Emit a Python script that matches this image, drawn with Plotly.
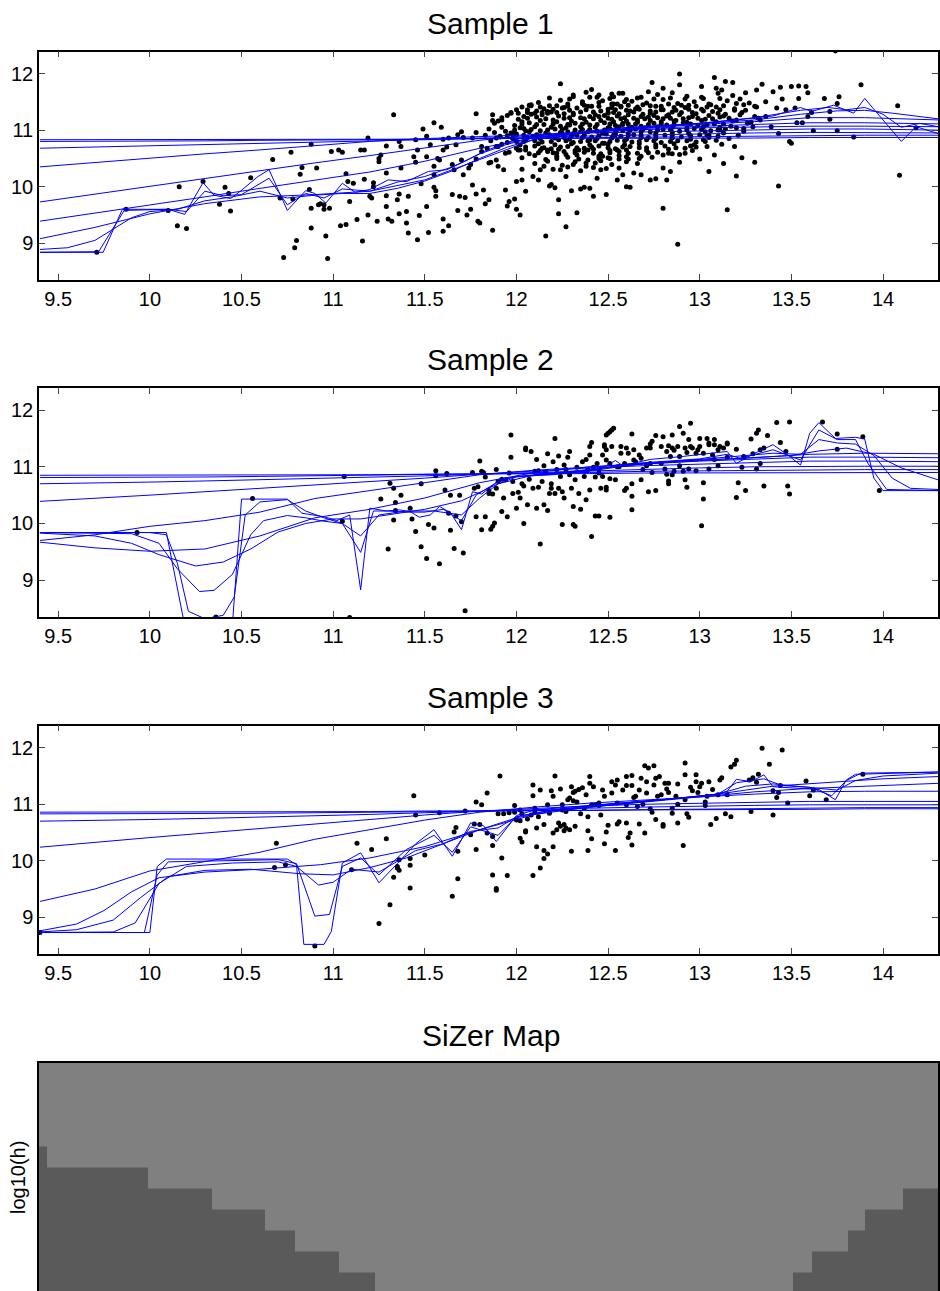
import plotly.graph_objects as go

# ---------------- axes / labels ----------------
X_RANGE = [9.395, 14.30]
Y_RANGE = [8.35, 12.39]
x_ticks = [9.5, 10, 10.5, 11, 11.5, 12, 12.5, 13, 13.5, 14]
x_tick_text = ["9.5", "10", "10.5", "11", "11.5", "12", "12.5", "13", "13.5", "14"]
y_ticks = [9, 10, 11, 12]
y_tick_text = ["9", "10", "11", "12"]
titles = ["Sample 1", "Sample 2", "Sample 3", "SiZer Map"]
map_ylabel = "log10(h)"

# ---------------- Sample 1 points (x, y) ----------------
s1_sparse = [
    (9.71, 8.84), (9.87, 9.60), (10.10, 9.58), (10.16, 10.00), (10.15, 9.31), (10.20, 9.26), (10.29, 10.09),
    (10.38, 9.69), (10.41, 9.99), (10.43, 9.88), (10.44, 9.57), (10.55, 10.16), (10.67, 10.48), (10.71, 9.80),
    (10.73, 8.75), (10.77, 10.61), (10.78, 9.78), (10.79, 8.92), (10.80, 9.05), (10.82, 10.22), (10.83, 10.34),
    (10.87, 9.95), (10.88, 9.62), (10.88, 10.75), (10.88, 9.27), (10.91, 10.33), (10.92, 9.68),
    (10.96, 9.13), (10.97, 8.73), (10.93, 9.70), (10.95, 9.68), (10.95, 9.60), (10.98, 9.62), (10.99, 10.62),
    (11.03, 10.65), (11.05, 10.61), (11.04, 9.31), (11.07, 9.33), (11.07, 10.23), (11.09, 9.74), (11.08, 10.09),
    (11.11, 10.06), (11.13, 9.42), (11.15, 10.65), (11.17, 10.65), (11.16, 9.04), (11.17, 10.13), (11.19, 10.86),
    (11.19, 9.50), (11.20, 9.83), (11.21, 9.80), (11.22, 10.07), (11.22, 10.00), (11.24, 9.39), (11.25, 10.50),
    (11.25, 10.44), (11.26, 10.56), (11.29, 10.24), (11.29, 9.65), (11.29, 9.84), (11.30, 9.43), (11.29, 10.72),
    (11.32, 9.39), (11.33, 11.27), (11.35, 9.77), (11.36, 9.87), (11.36, 9.52), (11.36, 10.80), (11.37, 10.71),
    (11.37, 10.33), (11.40, 9.56), (11.40, 9.36), (11.41, 9.83), (11.41, 9.18), (11.44, 10.53), (11.45, 10.43),
    (11.45, 10.83), (11.46, 10.65), (11.46, 9.06), (11.47, 9.49), (11.48, 10.05), (11.49, 11.02), (11.51, 10.53),
    (11.51, 9.65), (11.51, 10.89), (11.52, 9.19), (11.53, 10.74), (11.55, 11.13), (11.55, 9.99), (11.55, 10.36),
    (11.55, 10.21), (11.56, 9.83), (11.56, 9.93), (11.57, 10.50), (11.58, 10.47), (11.59, 11.05), (11.60, 9.43),
    (11.60, 9.21), (11.60, 10.84), (11.60, 10.65), (11.62, 10.70), (11.63, 10.86), (11.63, 9.31), (11.65, 9.86),
    (11.65, 10.39), (11.66, 10.30), (11.67, 10.74), (11.68, 10.92), (11.68, 9.58), (11.69, 9.83), (11.70, 10.97),
    (11.70, 10.47), (11.71, 10.21), (11.71, 10.87), (11.72, 9.81), (11.73, 9.50), (11.74, 10.33), (11.75, 10.39),
    (11.75, 9.60), (11.76, 10.86), (11.76, 10.03), (11.78, 11.29), (11.78, 10.96), (11.78, 9.87), (11.78, 10.49),
    (11.79, 9.39), (11.80, 9.36), (11.81, 10.71), (11.81, 10.62), (11.82, 9.94), (11.83, 9.70), (11.84, 10.68),
    (11.85, 10.42), (11.85, 9.77), (11.86, 10.43), (11.87, 11.27), (11.87, 9.23), (11.87, 11.17), (11.89, 10.71),
    (11.89, 10.47), (11.90, 10.36), (11.91, 10.89), (11.92, 11.18), (11.93, 10.30), (11.94, 10.59), (11.94, 9.94),
    (11.95, 9.66), (11.96, 9.74), (11.97, 11.30), (11.98, 10.86), (11.99, 9.78), (11.99, 10.94), (12.00, 9.60),
    (12.00, 10.09), (12.01, 11.30), (12.01, 10.65), (12.02, 9.50), (12.03, 10.31), (12.03, 10.12), (12.04, 10.80),
    (12.05, 10.99), (12.05, 10.65), (12.05, 9.92), (12.06, 11.36), (12.07, 11.44), (12.08, 11.43), (12.09, 10.18),
    (12.10, 11.30), (12.11, 10.92), (12.12, 10.12), (12.13, 10.30), (12.14, 10.68), (12.14, 11.31), (12.15, 10.36),
    (12.16, 9.13), (12.17, 10.65), (12.17, 11.30), (12.18, 10.01), (12.19, 10.04), (12.20, 10.60), (12.21, 9.98),
    (12.22, 11.31), (12.23, 9.52), (12.23, 9.77), (12.24, 11.82), (12.24, 10.30), (12.25, 10.94), (12.25, 11.39),
    (12.26, 10.62), (12.27, 9.29), (12.27, 10.18), (12.28, 11.42), (12.29, 11.09), (12.30, 9.93), (12.31, 11.59),
    (12.31, 10.39), (12.33, 9.54), (12.34, 10.65), (12.35, 9.96), (12.35, 10.97), (12.36, 11.50), (12.37, 9.99),
    (12.38, 10.36), (12.39, 10.65), (12.40, 9.97), (12.40, 10.83), (12.41, 11.72), (12.42, 9.83), (12.43, 10.42),
    (12.44, 10.15), (12.45, 11.49), (12.45, 11.62), (12.46, 10.30), (12.47, 10.54), (12.48, 10.77), (12.49, 9.86),
    (12.50, 11.30), (12.51, 10.50), (12.52, 11.46), (12.53, 11.59), (12.54, 10.92), (12.55, 10.12), (12.55, 10.65),
    (12.56, 11.65), (12.57, 11.42), (12.58, 11.12), (12.59, 11.50), (12.60, 10.00), (12.61, 11.03),
    (13.74, 12.40), (12.89, 11.99), (12.74, 11.84), (12.80, 11.74), (12.89, 11.80), (13.08, 11.93), (13.14, 11.86),
    (13.18, 11.84), (13.01, 11.77), (13.09, 11.74), (13.12, 11.71), (13.25, 11.66), (13.34, 11.81), (13.31, 11.71),
    (13.40, 11.68), (13.44, 11.76), (13.45, 11.55), (13.50, 11.77), (13.54, 11.78), (13.58, 11.77), (13.59, 11.66),
    (13.54, 11.56), (13.52, 11.39), (13.68, 11.56), (13.76, 11.59), (13.75, 11.47), (13.88, 11.80), (13.71, 11.33),
    (13.71, 11.19), (13.61, 11.31), (13.59, 11.24), (13.53, 11.13), (13.56, 11.13), (13.62, 10.99), (13.75, 10.99),
    (13.84, 10.88), (14.08, 11.43), (14.18, 11.04), (14.09, 10.20), (13.43, 10.94), (13.49, 10.80), (13.50, 10.77),
    (13.43, 10.01), (13.15, 9.59), (12.80, 9.62), (12.88, 8.98), (13.20, 10.19), (13.13, 10.41), (13.05, 10.27),
    (13.00, 10.49), (13.08, 10.56), (13.19, 10.71), (13.23, 10.51), (13.30, 10.43), (12.92, 10.59), (12.95, 10.72),
    (12.89, 10.43), (12.85, 10.58), (12.80, 10.33), (12.76, 10.14), (12.73, 10.12), (12.62, 9.99), (12.82, 10.12),
    (12.84, 10.27), (12.68, 10.21), (12.64, 10.24), (12.58, 10.21), (12.56, 10.33), (12.60, 10.53), (13.04, 10.91),
    (13.11, 11.00), (13.02, 10.83), (13.24, 11.03), (13.29, 11.06), (13.33, 11.18), (13.36, 11.24), (13.39, 11.06),
    (13.25, 11.35), (13.20, 11.47), (13.31, 11.41), (13.36, 11.50), (13.42, 11.39), (13.47, 11.36),
]
s1_dense = [
    (12.31, 11.62), (12.44, 11.58), (12.58, 11.65), (12.66, 11.57), (12.77, 11.63), (12.93, 11.60), (13.02, 11.56), (13.18, 11.61),
    (12.12, 11.49), (12.24, 11.53), (12.36, 11.47), (12.47, 11.52), (12.55, 11.46), (12.63, 11.51), (12.71, 11.48), (12.80, 11.54),
    (12.88, 11.47), (12.97, 11.50), (13.06, 11.45), (13.15, 11.52), (13.27, 11.48),
    (12.03, 11.41), (12.15, 11.38), (12.22, 11.43), (12.33, 11.39), (12.41, 11.42), (12.50, 11.37), (12.57, 11.41), (12.65, 11.38),
    (12.73, 11.43), (12.79, 11.36), (12.86, 11.40), (12.94, 11.44), (13.01, 11.37), (13.09, 11.41), (13.19, 11.38), (13.30, 11.42),
    (11.97, 11.31), (12.08, 11.28), (12.17, 11.33), (12.26, 11.29), (12.35, 11.32), (12.43, 11.27), (12.50, 11.31), (12.56, 11.29),
    (12.62, 11.34), (12.69, 11.28), (12.76, 11.32), (12.83, 11.27), (12.90, 11.31), (12.98, 11.29), (13.07, 11.33), (13.14, 11.28),
    (13.23, 11.31),
    (11.92, 11.22), (12.01, 11.19), (12.11, 11.23), (12.20, 11.18), (12.29, 11.22), (12.37, 11.20), (12.45, 11.24), (12.52, 11.19),
    (12.59, 11.22), (12.66, 11.18), (12.72, 11.23), (12.80, 11.20), (12.87, 11.17), (12.94, 11.22), (13.03, 11.19), (13.11, 11.23),
    (13.20, 11.18), (13.32, 11.21),
    (11.88, 11.12), (11.99, 11.08), (12.07, 11.13), (12.15, 11.10), (12.24, 11.07), (12.32, 11.12), (12.40, 11.09), (12.48, 11.13),
    (12.54, 11.08), (12.61, 11.11), (12.68, 11.07), (12.75, 11.12), (12.82, 11.09), (12.91, 11.13), (12.99, 11.08), (13.08, 11.11),
    (13.17, 11.07), (13.26, 11.12),
    (11.85, 11.02), (11.94, 10.98), (12.04, 11.03), (12.13, 10.99), (12.21, 11.02), (12.28, 10.97), (12.36, 11.01), (12.44, 10.98),
    (12.51, 11.03), (12.58, 10.99), (12.65, 11.02), (12.73, 10.97), (12.80, 11.01), (12.89, 10.98), (12.97, 11.03), (13.06, 10.99),
    (13.14, 11.02), (13.24, 10.98),
    (11.83, 10.91), (11.91, 10.88), (12.00, 10.93), (12.09, 10.89), (12.18, 10.92), (12.26, 10.87), (12.33, 10.91), (12.41, 10.88),
    (12.49, 10.93), (12.57, 10.89), (12.64, 10.92), (12.72, 10.87), (12.81, 10.91), (12.90, 10.88), (13.00, 10.92), (13.10, 10.89),
    (13.21, 10.91),
    (11.86, 10.81), (11.95, 10.78), (12.05, 10.82), (12.14, 10.79), (12.23, 10.83), (12.31, 10.78), (12.39, 10.81), (12.47, 10.77),
    (12.55, 10.82), (12.63, 10.79), (12.71, 10.83), (12.79, 10.78), (12.88, 10.81), (12.98, 10.79), (13.09, 10.82),
    (11.90, 10.71), (12.00, 10.68), (12.10, 10.72), (12.19, 10.67), (12.28, 10.71), (12.37, 10.68), (12.45, 10.72), (12.54, 10.67),
    (12.62, 10.71), (12.71, 10.69), (12.81, 10.72), (12.92, 10.68), (13.04, 10.71),
    (11.96, 10.61), (12.07, 10.58), (12.17, 10.62), (12.27, 10.57), (12.37, 10.61), (12.46, 10.58), (12.56, 10.62), (12.66, 10.59),
    (12.77, 10.61), (12.89, 10.57),
    (12.03, 10.51), (12.16, 10.48), (12.28, 10.52), (12.39, 10.47), (12.50, 10.51), (12.61, 10.49), (12.74, 10.52),
    (12.10, 10.41), (12.25, 10.38), (12.38, 10.42), (12.52, 10.39), (12.66, 10.41),
    (12.20, 10.31), (12.35, 10.28), (12.49, 10.32),
]
s1_dense2 = [
    (12.38, 11.67), (12.52, 11.64), (12.72, 11.68), (12.85, 11.66), (13.10, 11.65),
    (12.18, 11.57), (12.29, 11.55), (12.40, 11.58), (12.51, 11.56), (12.60, 11.54), (12.68, 11.58), (12.75, 11.55),
    (12.84, 11.57), (12.92, 11.55), (13.01, 11.58), (13.11, 11.56), (13.22, 11.55),
    (12.08, 11.45), (12.18, 11.43), (12.28, 11.46), (12.37, 11.44), (12.45, 11.42), (12.53, 11.46), (12.61, 11.44),
    (12.69, 11.45), (12.76, 11.42), (12.83, 11.46), (12.90, 11.44), (12.98, 11.42), (13.05, 11.46), (13.13, 11.43), (13.24, 11.45),
    (12.00, 11.36), (12.11, 11.34), (12.20, 11.37), (12.29, 11.35), (12.38, 11.36), (12.46, 11.34), (12.54, 11.36),
    (12.60, 11.35), (12.67, 11.37), (12.73, 11.34), (12.80, 11.36), (12.87, 11.35), (12.94, 11.37), (13.02, 11.34),
    (13.11, 11.36), (13.19, 11.35),
    (11.95, 11.26), (12.04, 11.24), (12.14, 11.27), (12.23, 11.25), (12.31, 11.27), (12.40, 11.24), (12.48, 11.26),
    (12.55, 11.25), (12.61, 11.27), (12.68, 11.24), (12.75, 11.26), (12.82, 11.25), (12.89, 11.27), (12.96, 11.24),
    (13.05, 11.26), (13.13, 11.25), (13.22, 11.27), (13.30, 11.24),
    (11.90, 11.16), (12.03, 11.15), (12.13, 11.17), (12.22, 11.15), (12.30, 11.16), (12.38, 11.14), (12.46, 11.17),
    (12.53, 11.15), (12.60, 11.16), (12.66, 11.14), (12.73, 11.17), (12.79, 11.15), (12.86, 11.16), (12.93, 11.14),
    (13.01, 11.17), (13.09, 11.15), (13.18, 11.16), (13.28, 11.14),
    (11.92, 11.05), (12.02, 11.04), (12.10, 11.06), (12.19, 11.05), (12.27, 11.04), (12.35, 11.06), (12.43, 11.05),
    (12.50, 11.04), (12.56, 11.06), (12.63, 11.05), (12.70, 11.04), (12.77, 11.06), (12.85, 11.05), (12.93, 11.04),
    (13.02, 11.06), (13.11, 11.05), (13.20, 11.04),
    (11.88, 10.96), (11.97, 10.95), (12.07, 10.97), (12.16, 10.95), (12.24, 10.96), (12.31, 10.94), (12.39, 10.97),
    (12.47, 10.95), (12.54, 10.96), (12.61, 10.94), (12.68, 10.97), (12.76, 10.95), (12.85, 10.96), (12.94, 10.94),
    (13.03, 10.97), (13.13, 10.95),
    (11.89, 10.86), (11.98, 10.85), (12.06, 10.87), (12.13, 10.85), (12.21, 10.86), (12.29, 10.84), (12.36, 10.87),
    (12.44, 10.85), (12.52, 10.86), (12.60, 10.84), (12.68, 10.87), (12.76, 10.85), (12.85, 10.86), (12.95, 10.84),
    (13.05, 10.87), (13.16, 10.85),
    (11.92, 10.75), (12.02, 10.74), (12.12, 10.76), (12.21, 10.74), (12.30, 10.76), (12.40, 10.74), (12.50, 10.75),
    (12.59, 10.74), (12.67, 10.76), (12.76, 10.74), (12.86, 10.76), (12.97, 10.74), (13.12, 10.75),
    (12.02, 10.65), (12.13, 10.64), (12.23, 10.66), (12.32, 10.64), (12.42, 10.66), (12.51, 10.64), (12.60, 10.65),
    (12.71, 10.64), (12.83, 10.66), (12.96, 10.64),
    (12.10, 10.55), (12.22, 10.54), (12.33, 10.56), (12.45, 10.54), (12.56, 10.55), (12.68, 10.54), (12.80, 10.56),
    (12.17, 10.45), (12.32, 10.44), (12.46, 10.46), (12.60, 10.44),
    (12.28, 10.35), (12.42, 10.34),
]
s1_dense3 = [
    (12.13, 11.41), (12.26, 11.40), (12.39, 11.42), (12.52, 11.40), (12.66, 11.41), (12.79, 11.42), (12.92, 11.40), (13.04, 11.41),
    (12.06, 11.31), (12.19, 11.32), (12.31, 11.30), (12.42, 11.32), (12.53, 11.31), (12.64, 11.32), (12.73, 11.30),
    (12.85, 11.32), (12.96, 11.31), (13.10, 11.30),
    (12.06, 11.21), (12.16, 11.20), (12.26, 11.21), (12.35, 11.22), (12.42, 11.20), (12.50, 11.21), (12.57, 11.20),
    (12.64, 11.21), (12.70, 11.20), (12.77, 11.22), (12.84, 11.21), (12.91, 11.20), (12.99, 11.21), (13.07, 11.20), (13.16, 11.21),
    (12.03, 11.11), (12.11, 11.10), (12.20, 11.11), (12.28, 11.10), (12.36, 11.11), (12.44, 11.10), (12.51, 11.11),
    (12.58, 11.10), (12.65, 11.11), (12.72, 11.10), (12.79, 11.11), (12.86, 11.10), (12.95, 11.11), (13.04, 11.10), (13.13, 11.11),
    (11.99, 11.00), (12.08, 11.01), (12.17, 11.00), (12.25, 11.01), (12.32, 11.00), (12.40, 11.01), (12.48, 11.00),
    (12.55, 11.01), (12.62, 11.00), (12.69, 11.01), (12.77, 11.00), (12.84, 11.01), (12.93, 11.00), (13.01, 11.01), (13.10, 11.00),
    (11.95, 10.90), (12.04, 10.91), (12.13, 10.90), (12.22, 10.91), (12.30, 10.90), (12.37, 10.91), (12.45, 10.90),
    (12.53, 10.91), (12.61, 10.90), (12.68, 10.91), (12.76, 10.90), (12.85, 10.91), (12.95, 10.90), (13.05, 10.91),
    (12.00, 10.80), (12.10, 10.81), (12.19, 10.80), (12.27, 10.81), (12.35, 10.80), (12.43, 10.81), (12.51, 10.80),
    (12.59, 10.81), (12.67, 10.80), (12.75, 10.81), (12.84, 10.80), (12.93, 10.81), (13.03, 10.80),
    (12.05, 10.70), (12.15, 10.69), (12.24, 10.70), (12.33, 10.69), (12.41, 10.70), (12.50, 10.69), (12.58, 10.70),
    (12.67, 10.69), (12.76, 10.70), (12.87, 10.69), (12.98, 10.70),
    (12.12, 10.60), (12.22, 10.59), (12.32, 10.60), (12.42, 10.59), (12.51, 10.60), (12.61, 10.59), (12.72, 10.60), (12.83, 10.59),
    (12.22, 10.50), (12.34, 10.49), (12.45, 10.50), (12.56, 10.49), (12.67, 10.50),
]

# ---------------- Sample 2 points ----------------
s2_points = [
    (9.93, 9.84), (10.56, 10.44), (10.36, 8.35),
    (11.06, 10.83), (11.05, 10.04), (11.09, 8.34), (11.30, 9.55), (11.26, 10.43), (11.31, 10.71), (11.33, 10.62),
    (11.34, 10.37), (11.33, 10.06), (11.34, 10.23), (11.37, 10.50), (11.42, 10.27), (11.43, 10.08), (11.45, 9.86),
    (11.48, 10.70), (11.48, 9.59), (11.51, 9.38), (11.52, 9.98), (11.55, 9.92), (11.56, 10.93), (11.56, 10.84),
    (11.58, 9.29), (11.61, 10.59), (11.62, 10.88), (11.63, 10.18), (11.64, 10.50), (11.64, 9.88), (11.66, 9.56),
    (11.67, 10.13), (11.69, 10.50), (11.70, 10.03), (11.71, 9.48), (11.72, 8.46), (11.76, 10.90), (11.77, 10.62),
    (11.78, 10.12), (11.79, 10.65), (11.80, 11.10), (11.81, 9.89), (11.81, 10.92), (11.82, 10.90), (11.83, 10.82),
    (11.83, 10.12), (11.85, 10.53), (11.85, 10.58), (11.86, 9.90), (11.87, 9.95), (11.87, 10.52), (11.88, 10.01),
    (11.89, 10.95), (11.89, 10.62), (11.90, 10.74), (11.92, 10.78), (11.92, 10.21), (11.93, 10.45), (11.94, 10.77),
    (11.95, 10.12), (11.96, 10.89), (11.97, 11.17), (11.97, 11.56), (11.98, 10.74), (11.98, 10.53), (12.00, 10.27),
    (12.01, 10.55), (12.02, 10.45), (12.03, 10.70), (12.04, 10.00), (12.04, 10.66), (12.05, 11.33), (12.05, 11.30),
    (12.06, 10.33), (12.07, 10.78), (12.08, 11.27), (12.09, 10.62), (12.10, 10.92), (12.11, 10.27), (12.11, 11.13),
    (12.12, 10.93), (12.12, 10.64), (12.13, 9.64), (12.14, 10.74), (12.15, 11.02), (12.15, 10.33), (12.16, 10.90),
    (12.17, 10.23), (12.17, 11.23), (12.18, 10.53), (12.19, 10.70), (12.19, 10.62), (12.20, 11.09), (12.21, 11.50),
    (12.21, 10.53), (12.22, 10.95), (12.23, 11.19), (12.23, 10.62), (12.24, 10.83), (12.25, 10.56), (12.25, 9.98),
    (12.26, 11.03), (12.26, 10.45), (12.27, 10.95), (12.28, 11.17), (12.29, 11.27), (12.29, 10.86), (12.30, 10.62),
    (12.31, 10.30), (12.31, 9.98), (12.32, 9.95), (12.32, 10.77), (12.33, 10.99), (12.34, 10.53), (12.35, 10.25),
    (12.36, 11.09), (12.37, 10.83), (12.38, 10.42), (12.38, 11.13), (12.39, 10.95), (12.40, 11.36), (12.40, 11.21),
    (12.40, 10.59), (12.41, 9.77), (12.41, 11.43), (12.42, 10.99), (12.43, 10.82), (12.43, 10.13), (12.44, 11.06),
    (12.45, 10.13), (12.45, 10.95), (12.46, 10.62), (12.47, 11.21), (12.48, 11.39), (12.49, 11.12), (12.50, 11.59),
    (12.51, 10.11), (12.51, 11.62), (12.52, 11.36), (12.53, 11.68), (12.54, 10.77), (12.55, 11.00),
    (12.49, 11.56), (12.52, 11.65), (12.48, 11.36), (12.49, 11.30), (12.57, 11.36), (12.60, 11.33), (12.57, 11.24),
    (12.61, 11.24), (12.63, 11.58), (12.64, 11.30), (12.64, 11.12), (12.65, 11.09), (12.68, 11.15), (12.67, 11.21),
    (12.71, 11.33), (12.73, 11.40), (12.74, 11.45), (12.73, 11.33), (12.76, 11.55), (12.79, 11.36), (12.80, 11.53),
    (12.82, 11.27), (12.83, 11.37), (12.84, 11.18), (12.85, 11.56), (12.85, 11.33), (12.86, 11.29), (12.88, 11.36),
    (12.89, 11.71), (12.89, 11.18), (12.91, 11.59), (12.92, 11.33), (12.93, 11.25), (12.94, 11.48), (12.95, 11.36),
    (12.95, 11.77), (12.96, 11.33), (12.98, 11.24), (12.99, 11.30), (13.00, 11.50), (13.00, 11.36), (13.02, 11.24),
    (13.04, 11.50), (13.05, 11.39), (13.05, 11.42), (13.07, 11.21), (13.08, 11.48), (13.08, 11.39), (13.10, 11.30),
    (13.11, 11.36), (13.13, 11.33), (13.15, 11.40), (13.15, 11.42), (13.20, 11.31), (13.24, 11.18), (13.28, 11.49),
    (13.29, 11.23), (13.31, 11.59), (13.32, 11.65), (13.33, 11.30), (13.35, 11.33), (13.37, 11.55), (13.42, 11.78),
    (13.44, 11.43), (13.47, 11.27), (13.49, 11.79), (13.48, 10.66), (13.49, 10.52), (13.67, 11.79), (13.75, 11.58),
    (13.75, 11.31), (13.89, 11.53), (13.98, 10.58),
    (12.45, 10.89), (12.47, 10.83), (12.51, 10.79), (12.49, 10.64), (12.49, 10.59), (12.59, 10.58), (12.60, 10.62),
    (12.63, 10.70), (12.63, 10.48), (12.63, 10.24), (12.68, 10.77), (12.72, 10.56), (12.76, 10.58), (12.74, 10.90),
    (12.82, 10.87), (12.83, 10.75), (12.83, 10.70), (12.85, 10.86), (12.86, 10.92), (12.92, 10.77), (12.93, 10.64),
    (12.91, 10.92), (12.94, 10.96), (12.98, 10.93), (13.01, 9.96), (13.02, 10.43), (13.02, 10.72), (13.05, 10.96),
    (13.08, 11.13), (13.10, 11.02), (13.15, 11.17), (13.20, 10.46), (13.21, 10.72), (13.23, 10.99), (13.25, 10.58),
    (13.31, 10.96), (13.33, 11.06), (13.35, 10.66), (12.69, 10.95), (12.71, 11.02), (12.73, 11.06), (12.56, 11.00),
    (12.59, 11.06), (12.79, 11.06), (12.89, 11.02), (12.81, 10.96), (12.51, 11.06),
]

# ---------------- Sample 3 points ----------------
s3_points = [
    (9.40, 8.73), (10.69, 10.31), (10.68, 9.88), (10.74, 9.93), (10.90, 8.49),
    (11.10, 9.84), (11.13, 10.31), (11.21, 10.20), (11.25, 8.89), (11.29, 10.39), (11.31, 9.22), (11.33, 9.71),
    (11.35, 9.90), (11.35, 9.87), (11.36, 9.83), (11.36, 10.02), (11.42, 10.04), (11.42, 9.92), (11.42, 9.52),
    (11.44, 11.15), (11.45, 10.81), (11.50, 10.10), (11.58, 10.85), (11.65, 9.37), (11.66, 10.51), (11.67, 10.59),
    (11.68, 9.68), (11.68, 10.17), (11.72, 10.88), (11.75, 10.46), (11.77, 10.65), (11.78, 11.04), (11.78, 10.20),
    (11.80, 10.64), (11.81, 10.99), (11.84, 11.20), (11.84, 10.49), (11.87, 10.43), (11.87, 10.27), (11.87, 9.75),
    (11.89, 9.51), (11.89, 9.48), (11.90, 10.83), (11.91, 11.50), (11.92, 10.05), (11.93, 10.83), (11.95, 9.74),
    (11.96, 10.85), (11.99, 10.98), (11.99, 10.86), (12.00, 10.72), (12.02, 10.71), (12.02, 10.40), (12.02, 10.90),
    (12.03, 10.33), (12.03, 10.83), (12.05, 10.53), (12.05, 10.51), (12.06, 10.74), (12.08, 10.81), (12.09, 9.74),
    (12.09, 11.34), (12.09, 11.15), (12.10, 10.93), (12.10, 10.86), (12.11, 10.58), (12.11, 10.25), (12.12, 10.78),
    (12.13, 11.25), (12.13, 9.87), (12.15, 10.64), (12.15, 10.18), (12.15, 10.04), (12.17, 10.99), (12.17, 10.12),
    (12.18, 10.84), (12.19, 11.24), (12.20, 11.14), (12.20, 10.25), (12.20, 10.49), (12.21, 11.50), (12.22, 10.55),
    (12.23, 10.67), (12.24, 11.27), (12.24, 10.61), (12.25, 10.90), (12.25, 10.99), (12.26, 10.53), (12.26, 10.64),
    (12.27, 10.87), (12.27, 10.58), (12.28, 11.08), (12.29, 11.11), (12.29, 10.55), (12.30, 10.17), (12.30, 11.31),
    (12.31, 11.21), (12.31, 11.06), (12.32, 11.23), (12.32, 10.61), (12.33, 11.04), (12.34, 11.26), (12.35, 10.83),
    (12.36, 11.29), (12.37, 10.93), (12.38, 11.17), (12.39, 10.53), (12.39, 10.18), (12.39, 10.78), (12.40, 11.37),
    (12.40, 11.49), (12.41, 10.99), (12.41, 10.39), (12.42, 11.31), (12.43, 10.99), (12.45, 11.02), (12.45, 10.98),
    (12.46, 10.81), (12.47, 11.25), (12.48, 11.14), (12.48, 10.30), (12.49, 10.51), (12.50, 10.63), (12.52, 11.20),
    (12.52, 11.40), (12.54, 10.18), (12.54, 11.34), (12.55, 11.43), (12.55, 10.65),
    (12.55, 11.02), (12.56, 10.69), (12.58, 11.25), (12.60, 11.49), (12.60, 11.33), (12.60, 10.67), (12.60, 10.99),
    (12.61, 10.41), (12.62, 10.49), (12.63, 10.28), (12.63, 11.51), (12.63, 11.33), (12.64, 11.12), (12.65, 11.14),
    (12.66, 10.96), (12.67, 11.25), (12.67, 10.65), (12.68, 11.46), (12.69, 11.00), (12.70, 10.49), (12.70, 11.68),
    (12.71, 11.40), (12.71, 11.20), (12.72, 11.64), (12.73, 10.92), (12.74, 10.86), (12.75, 11.68), (12.75, 11.34),
    (12.76, 10.73), (12.76, 11.46), (12.77, 11.14), (12.78, 11.49), (12.79, 11.17), (12.80, 10.64), (12.80, 10.61),
    (12.81, 11.37), (12.82, 11.27), (12.83, 11.21), (12.83, 11.37), (12.85, 10.93), (12.85, 10.84), (12.87, 11.14),
    (12.88, 10.67), (12.88, 11.36), (12.88, 11.00), (12.91, 10.27), (12.92, 11.73), (12.92, 11.52), (12.92, 11.08),
    (12.93, 10.83), (12.94, 10.77), (12.95, 11.30), (12.96, 11.24), (12.98, 11.52), (12.98, 11.40), (12.99, 11.21),
    (13.00, 11.31), (13.01, 11.37), (13.03, 10.98), (13.03, 11.04), (13.04, 11.14), (13.05, 11.40), (13.06, 10.64),
    (13.07, 11.26), (13.09, 10.75), (13.10, 11.17), (13.11, 11.43), (13.12, 11.47), (13.14, 10.83), (13.15, 11.17),
    (13.17, 10.78), (13.17, 11.66), (13.19, 11.71), (13.20, 11.78), (13.28, 10.87), (13.27, 11.43), (13.29, 11.47),
    (13.31, 11.39), (13.32, 11.53), (13.34, 11.99), (13.38, 11.71), (13.40, 10.81), (13.40, 11.24), (13.42, 11.12),
    (13.43, 11.21), (13.44, 11.33), (13.45, 11.96), (13.48, 11.02), (13.58, 11.41), (13.60, 11.15), (13.62, 11.25),
    (13.69, 11.08), (13.89, 11.53),
]

# ---------------- smoother family ----------------
coarse_grid = [9.4, 9.7, 10.0, 10.3, 10.6, 10.9, 11.2, 11.5, 11.8, 12.1, 12.4, 12.7, 13.0, 13.3, 13.6, 13.9, 14.3]

p1_smooth = [
    [10.83, 10.83, 10.83, 10.83, 10.83, 10.84, 10.84, 10.84, 10.85, 10.85, 10.85, 10.86, 10.86, 10.86, 10.87, 10.87, 10.87],
    [10.80, 10.80, 10.81, 10.81, 10.82, 10.82, 10.83, 10.84, 10.85, 10.86, 10.87, 10.88, 10.89, 10.90, 10.90, 10.91, 10.91],
    [10.68, 10.70, 10.72, 10.74, 10.76, 10.78, 10.80, 10.83, 10.86, 10.88, 10.90, 10.92, 10.93, 10.95, 10.96, 10.96, 10.95],
    [10.35, 10.43, 10.50, 10.58, 10.65, 10.73, 10.80, 10.85, 10.89, 10.92, 10.95, 10.97, 10.99, 11.01, 11.02, 11.02, 11.00],
    [9.73, 9.87, 10.01, 10.15, 10.29, 10.42, 10.55, 10.68, 10.82, 10.92, 10.97, 11.01, 11.04, 11.06, 11.07, 11.07, 11.06],
    [9.39, 9.53, 9.68, 9.82, 9.97, 10.11, 10.26, 10.45, 10.68, 10.87, 10.97, 11.03, 11.07, 11.10, 11.13, 11.13, 11.11],
    [9.08, 9.28, 9.52, 9.70, 9.82, 9.86, 9.92, 10.12, 10.48, 10.84, 10.96, 11.04, 11.10, 11.15, 11.22, 11.22, 11.18],
]
p1_rough_x = [
    [9.40, 9.55, 9.70, 9.80, 9.90, 10.00, 10.15, 10.30, 10.45, 10.60, 10.75, 10.90, 11.05, 11.20, 11.35, 11.50, 11.65,
     11.80, 11.95, 12.10, 12.40, 12.70, 13.00, 13.30, 13.55, 13.75, 13.90, 14.05, 14.30],
    [9.40, 9.72, 9.86, 10.10, 10.20, 10.30, 10.40, 10.50, 10.65, 10.75, 10.85, 10.95, 11.05, 11.20, 11.35, 11.50, 11.65,
     11.80, 11.95, 12.10, 12.40, 12.70, 13.00, 13.30, 13.55, 13.70, 13.80, 13.90, 14.00, 14.10, 14.20, 14.30],
    [9.40, 9.745, 9.85, 10.10, 10.19, 10.29, 10.35, 10.44, 10.49, 10.59, 10.65, 10.75, 10.85, 10.90, 10.96, 11.05, 11.12,
     11.20, 11.30, 11.40, 11.52, 11.62, 11.72, 11.82, 11.95, 12.05, 12.20, 12.40, 12.60, 12.80, 13.00, 13.20, 13.40,
     13.55, 13.61, 13.73, 13.84, 13.90, 13.99, 14.10, 14.18, 14.30],
]
p1_rough_y = [
    [8.89, 8.92, 9.05, 9.25, 9.45, 9.56, 9.60, 9.75, 9.82, 9.92, 9.80, 9.85, 9.88, 9.88, 9.97, 10.10, 10.28,
     10.50, 10.70, 10.84, 10.96, 11.05, 11.11, 11.18, 11.28, 11.34, 11.35, 11.30, 11.20],
    [8.84, 8.85, 9.58, 9.60, 9.56, 9.92, 9.84, 9.86, 10.15, 9.68, 9.88, 9.80, 9.96, 9.92, 10.08, 10.18, 10.35,
     10.58, 10.75, 10.87, 10.97, 11.06, 11.12, 11.22, 11.35, 11.40, 11.36, 11.40, 11.28, 11.05, 11.12, 11.06],
    [8.84, 8.84, 9.60, 9.60, 9.51, 10.07, 9.85, 9.79, 9.91, 10.18, 10.30, 9.58, 9.93, 9.88, 9.71, 10.06, 9.90,
     9.95, 10.12, 10.09, 10.27, 10.30, 10.45, 10.62, 10.78, 10.88, 10.92, 10.98, 11.05, 11.08, 11.12, 11.18, 11.25,
     11.40, 11.33, 11.44, 11.30, 11.56, 11.21, 10.80, 11.06, 10.94],
]

p2_smooth = [
    [10.85, 10.85, 10.85, 10.85, 10.86, 10.86, 10.86, 10.87, 10.87, 10.88, 10.88, 10.89, 10.89, 10.90, 10.90, 10.90, 10.90],
    [10.81, 10.81, 10.82, 10.82, 10.83, 10.84, 10.85, 10.86, 10.87, 10.89, 10.90, 10.92, 10.93, 10.94, 10.95, 10.95, 10.95],
    [10.70, 10.71, 10.73, 10.75, 10.77, 10.79, 10.81, 10.84, 10.87, 10.90, 10.93, 10.96, 10.98, 11.00, 11.01, 11.01, 11.01],
    [10.39, 10.44, 10.50, 10.56, 10.62, 10.67, 10.73, 10.80, 10.87, 10.93, 10.98, 11.02, 11.05, 11.08, 11.10, 11.10, 11.09],
    [9.70, 9.80, 9.95, 10.05, 10.20, 10.44, 10.58, 10.72, 10.86, 10.94, 11.00, 11.05, 11.10, 11.14, 11.17, 11.17, 11.16],
    [9.67, 9.57, 9.51, 9.55, 9.78, 10.10, 10.25, 10.45, 10.72, 10.90, 11.00, 11.06, 11.12, 11.16, 11.22, 11.24, 11.23],
]
p2_rough_x = [
    [9.40, 9.70, 9.90, 10.05, 10.25, 10.40, 10.55, 10.70, 10.85, 11.00, 11.15, 11.30, 11.50, 11.70, 11.90, 12.10,
     12.40, 12.70, 13.00, 13.30, 13.50, 13.65, 13.80, 13.95, 14.10, 14.30],
    [9.40, 9.90, 10.05, 10.15, 10.27, 10.35, 10.45, 10.55, 10.62, 10.75, 10.85, 10.95, 11.05, 11.15, 11.25, 11.40,
     11.55, 11.70, 11.80, 11.90, 12.00, 12.20, 12.45, 12.70, 13.00, 13.20, 13.40, 13.55, 13.65, 13.75, 13.85, 13.95,
     14.05, 14.15, 14.30],
    [9.40, 10.00, 10.09, 10.15, 10.21, 10.30, 10.40, 10.46, 10.52, 10.60, 10.75, 10.85, 10.95, 11.05, 11.15, 11.22,
     11.30, 11.40, 11.50, 11.60, 11.70, 11.78, 11.90, 12.00, 12.20, 12.45, 12.60, 12.80, 13.00, 13.15, 13.22, 13.40,
     13.55, 13.65, 13.75, 13.85, 13.92, 14.02, 14.30],
    [9.40, 10.09, 10.19, 10.45, 10.50, 10.75, 10.83, 10.95, 11.02, 11.09, 11.15, 11.20, 11.29, 11.36, 11.42, 11.47,
     11.53, 11.58, 11.64, 11.70, 11.76, 11.81, 11.91, 12.00, 12.20, 12.45, 12.54, 12.58, 12.73, 12.90, 13.09, 13.15,
     13.20, 13.30, 13.40, 13.48, 13.55, 13.60, 13.65, 13.74, 13.85, 13.90, 13.95, 14.00, 14.30],
]
p2_rough_y = [
    [9.83, 9.78, 9.65, 9.45, 9.25, 9.32, 9.55, 9.85, 10.00, 10.08, 10.08, 10.15, 10.25, 10.40, 10.70, 10.86,
     10.95, 11.05, 11.11, 11.16, 11.20, 11.28, 11.33, 11.22, 10.98, 10.77],
    [9.84, 9.82, 9.65, 9.20, 8.80, 8.82, 9.10, 9.80, 10.05, 10.14, 10.10, 10.04, 10.00, 9.78, 10.15, 10.22,
     10.22, 10.15, 10.45, 10.70, 10.82, 10.87, 10.95, 11.06, 11.13, 11.18, 11.24, 11.22, 11.48, 11.42, 11.40, 11.20,
     10.80, 10.62, 10.60],
    [9.84, 9.84, 9.80, 9.30, 8.45, 8.32, 8.38, 8.70, 10.15, 10.38, 10.42, 10.22, 10.10, 10.00, 9.49, 10.22,
     10.22, 10.20, 10.20, 10.25, 10.05, 10.50, 10.74, 10.83, 10.88, 10.96, 11.05, 11.09, 11.14, 11.22, 11.15, 11.30,
     11.12, 11.65, 11.48, 11.48, 11.05, 10.60, 10.58],
    [9.84, 9.84, 8.20, 8.20, 10.43, 10.43, 10.18, 10.12, 10.05, 10.15, 8.83, 10.27, 10.22, 10.24, 10.21, 10.11,
     10.15, 10.30, 10.19, 9.89, 10.56, 10.52, 10.77, 10.83, 10.86, 10.95, 11.11, 11.02, 11.13, 11.18, 11.25, 11.27,
     11.06, 11.24, 11.39, 11.21, 11.03, 11.59, 11.78, 11.50, 11.52, 11.49, 10.80, 10.58, 10.58],
]

p3_smooth = [
    [10.86, 10.86, 10.86, 10.86, 10.87, 10.87, 10.87, 10.88, 10.88, 10.89, 10.89, 10.90, 10.90, 10.91, 10.91, 10.92, 10.92],
    [10.83, 10.83, 10.83, 10.84, 10.84, 10.85, 10.86, 10.87, 10.88, 10.89, 10.90, 10.91, 10.92, 10.93, 10.93, 10.94, 10.94],
    [10.70, 10.71, 10.73, 10.75, 10.77, 10.79, 10.82, 10.85, 10.88, 10.91, 10.93, 10.95, 10.97, 10.98, 10.99, 10.99, 10.99],
    [10.24, 10.33, 10.41, 10.49, 10.57, 10.66, 10.74, 10.81, 10.88, 10.93, 10.97, 11.00, 11.02, 11.04, 11.05, 11.05, 11.05],
    [9.28, 9.50, 9.82, 9.98, 10.15, 10.38, 10.55, 10.72, 10.86, 10.95, 11.02, 11.08, 11.13, 11.18, 11.22, 11.23, 11.23],
]
p3_rough_x = [
    [9.40, 9.60, 9.75, 9.90, 10.05, 10.30, 10.60, 10.93, 11.20, 11.50, 11.80, 12.10, 12.40, 12.70, 13.00, 13.30,
     13.60, 13.90, 14.30],
    [9.40, 9.60, 9.80, 9.95, 10.10, 10.30, 10.55, 10.82, 11.00, 11.20, 11.40, 11.60, 11.80, 12.00, 12.20, 12.50,
     12.80, 13.10, 13.40, 13.70, 14.00, 14.30],
    [9.40, 9.80, 9.92, 10.05, 10.20, 10.45, 10.70, 10.80, 10.92, 11.00, 11.10, 11.25, 11.45, 11.60, 11.75, 11.90,
     12.00, 12.20, 12.50, 12.80, 13.10, 13.25, 13.40, 13.60, 13.75, 13.85, 14.00, 14.30],
    [9.40, 9.97, 10.04, 10.10, 10.70, 10.80, 10.90, 10.98, 11.05, 11.15, 11.25, 11.40, 11.55, 11.65, 11.75, 11.90,
     12.00, 12.20, 12.50, 12.80, 13.10, 13.20, 13.35, 13.45, 13.60, 13.72, 13.80, 13.88, 14.30],
    [9.40, 10.00, 10.04, 10.09, 10.75, 10.80, 10.84, 10.95, 10.99, 11.05, 11.15, 11.25, 11.35, 11.45, 11.55, 11.65,
     11.75, 11.82, 11.89, 12.00, 12.10, 12.30, 12.50, 12.70, 12.90, 13.05, 13.15, 13.20, 13.28, 13.35, 13.40, 13.55,
     13.65, 13.74, 13.80, 13.85, 14.30],
]
p3_rough_y = [
    [8.76, 8.88, 9.12, 9.45, 9.70, 9.80, 9.85, 9.93, 10.05, 10.25, 10.55, 10.82, 10.95, 11.04, 11.12, 11.22,
     11.28, 11.32, 11.37],
    [8.74, 8.78, 8.95, 9.35, 9.72, 9.83, 9.85, 9.77, 9.75, 9.88, 10.05, 10.30, 10.55, 10.76, 10.88, 10.98,
     11.08, 11.18, 11.32, 11.38, 11.45, 11.49],
    [8.73, 8.74, 8.90, 9.60, 9.90, 9.96, 9.98, 9.90, 9.57, 9.62, 9.85, 9.80, 10.18, 10.30, 10.52, 10.58,
     10.78, 10.90, 11.00, 11.08, 11.18, 11.32, 11.36, 11.30, 11.25, 11.42, 11.50, 11.55],
    [8.73, 8.73, 9.75, 9.98, 10.02, 9.95, 9.02, 9.05, 9.90, 10.05, 9.75, 10.20, 10.45, 10.15, 10.60, 10.45,
     10.78, 10.90, 11.00, 11.08, 11.18, 11.38, 11.45, 11.33, 11.30, 11.15, 11.42, 11.55, 11.57],
    [8.73, 8.73, 9.90, 10.03, 10.03, 9.93, 8.52, 8.52, 8.75, 9.96, 10.14, 9.61, 9.95, 10.30, 10.55, 10.08,
     10.67, 10.62, 10.34, 10.80, 10.90, 10.95, 11.00, 11.05, 11.10, 11.15, 11.23, 11.44, 11.40, 11.52, 11.31, 11.28,
     11.26, 11.08, 11.43, 11.53, 11.57],
]

# ---------------- SiZer map ----------------
map_col_edges = [9.395, 9.44, 9.99, 10.34, 10.63, 10.79, 11.03, 11.23, 13.51, 13.61, 13.81, 13.90, 14.11, 14.30]
map_row_edges = [0, 1, 2, 3, 4, 5, 6, 7, 8, 9, 10, 11]
map_z = [
    [0, 0, 0, 0, 0, 0, 0, 0, 0, 0, 0, 0, 0],
    [0, 0, 0, 0, 0, 0, 0, 0, 0, 0, 0, 0, 0],
    [0, 0, 0, 0, 0, 0, 0, 0, 0, 0, 0, 0, 0],
    [0, 0, 0, 0, 0, 0, 0, 0, 0, 0, 0, 0, 0],
    [1, 0, 0, 0, 0, 0, 0, 0, 0, 0, 0, 0, 0],
    [1, 1, 0, 0, 0, 0, 0, 0, 0, 0, 0, 0, 0],
    [1, 1, 1, 0, 0, 0, 0, 0, 0, 0, 0, 0, 1],
    [1, 1, 1, 1, 0, 0, 0, 0, 0, 0, 0, 1, 1],
    [1, 1, 1, 1, 1, 0, 0, 0, 0, 0, 1, 1, 1],
    [1, 1, 1, 1, 1, 1, 0, 0, 0, 1, 1, 1, 1],
    [1, 1, 1, 1, 1, 1, 1, 0, 1, 1, 1, 1, 1],
]

# ---------------- build figure ----------------
W, H = 940, 1291
ML = 39
FONT = "Liberation Sans, Arial, Helvetica, sans-serif"
BLUE = "rgb(0,0,255)"
tops = [51.5, 388.0, 725.7, 1062.5]
bottoms = [280.0, 617.0, 954.0, 1291.0]
title_y = [23, 360, 697, 1035]

fig = go.Figure()

panels = [
    (s1_sparse + s1_dense + s1_dense2 + s1_dense3, p1_smooth, p1_rough_x, p1_rough_y),
    (s2_points, p2_smooth, p2_rough_x, p2_rough_y),
    (s3_points, p3_smooth, p3_rough_x, p3_rough_y),
]

for i, (pts, smooth, rx, ry) in enumerate(panels):
    xa = "x" if i == 0 else f"x{i+1}"
    ya = "y" if i == 0 else f"y{i+1}"
    fig.add_trace(go.Scatter(
        x=[p[0] for p in pts], y=[p[1] for p in pts], mode="markers",
        marker=dict(color="black", size=5, line=dict(width=0)),
        xaxis=xa, yaxis=ya, showlegend=False, hoverinfo="skip"))
    for ys in smooth:
        fig.add_trace(go.Scatter(x=coarse_grid, y=ys, mode="lines",
                                 line=dict(color=BLUE, width=1), xaxis=xa, yaxis=ya,
                                 showlegend=False, hoverinfo="skip"))
    for xs, ys in zip(rx, ry):
        fig.add_trace(go.Scatter(x=xs, y=ys, mode="lines",
                                 line=dict(color=BLUE, width=1), xaxis=xa, yaxis=ya,
                                 showlegend=False, hoverinfo="skip"))

fig.add_trace(go.Heatmap(
    x=map_col_edges, y=map_row_edges, z=map_z, zmin=0, zmax=1,
    colorscale=[[0, "rgb(128,128,128)"], [1, "rgb(90,90,90)"]],
    showscale=False, xaxis="x4", yaxis="y4", hoverinfo="skip"))

layout = dict(
    width=W, height=H, margin=dict(l=ML, r=0, t=0, b=0),
    paper_bgcolor="white", plot_bgcolor="white",
    font=dict(family=FONT, color="black", size=20),
    showlegend=False,
)

for i in range(4):
    dom = [1 - bottoms[i] / H, 1 - tops[i] / H]
    xk = "xaxis" if i == 0 else f"xaxis{i+1}"
    yk = "yaxis" if i == 0 else f"yaxis{i+1}"
    xid = "x" if i == 0 else f"x{i+1}"
    yid = "y" if i == 0 else f"y{i+1}"
    if i < 3:
        layout[xk] = dict(domain=[0, 1], anchor=yid, range=X_RANGE, tickmode="array",
                          tickvals=x_ticks, ticktext=x_tick_text, ticks="inside", ticklen=6,
                          tickwidth=1, tickcolor="#444", showline=True, linecolor="black",
                          linewidth=1.5, mirror="ticks", showgrid=False, zeroline=False,
                          tickfont=dict(size=20, family=FONT, color="black"))
        layout[yk] = dict(domain=dom, anchor=xid, range=Y_RANGE, tickmode="array",
                          tickvals=y_ticks, ticktext=y_tick_text, ticks="inside", ticklen=6,
                          tickwidth=1, tickcolor="#444", showline=True, linecolor="black",
                          linewidth=1.5, mirror="ticks", showgrid=False, zeroline=False,
                          tickfont=dict(size=20, family=FONT, color="black"))
    else:
        layout[xk] = dict(domain=[0, 1], anchor=yid, range=X_RANGE, ticks="",
                          showticklabels=False, showline=True, linecolor="black",
                          linewidth=1.5, mirror=True, showgrid=False, zeroline=False)
        layout[yk] = dict(domain=dom, anchor=xid, range=[10.905, 0], ticks="",
                          showticklabels=False, showline=True, linecolor="black",
                          linewidth=1.5, mirror=True, showgrid=False, zeroline=False)

annotations = []
for i, t in enumerate(titles):
    annotations.append(dict(text=t, xref="paper", yref="paper",
                            x=(492 - ML) / (W - ML), y=1 - title_y[i] / H,
                            xanchor="center", yanchor="middle", showarrow=False,
                            font=dict(size=30, family=FONT, color="black")))
annotations.append(dict(text=map_ylabel, xref="paper", yref="paper",
                        x=(18 - ML) / (W - ML), y=1 - 1178 / H, textangle=-90,
                        xanchor="center", yanchor="middle", showarrow=False,
                        font=dict(size=20, family=FONT, color="black")))
layout["annotations"] = annotations

fig.update_layout(**layout)
fig.write_html("out.html")
